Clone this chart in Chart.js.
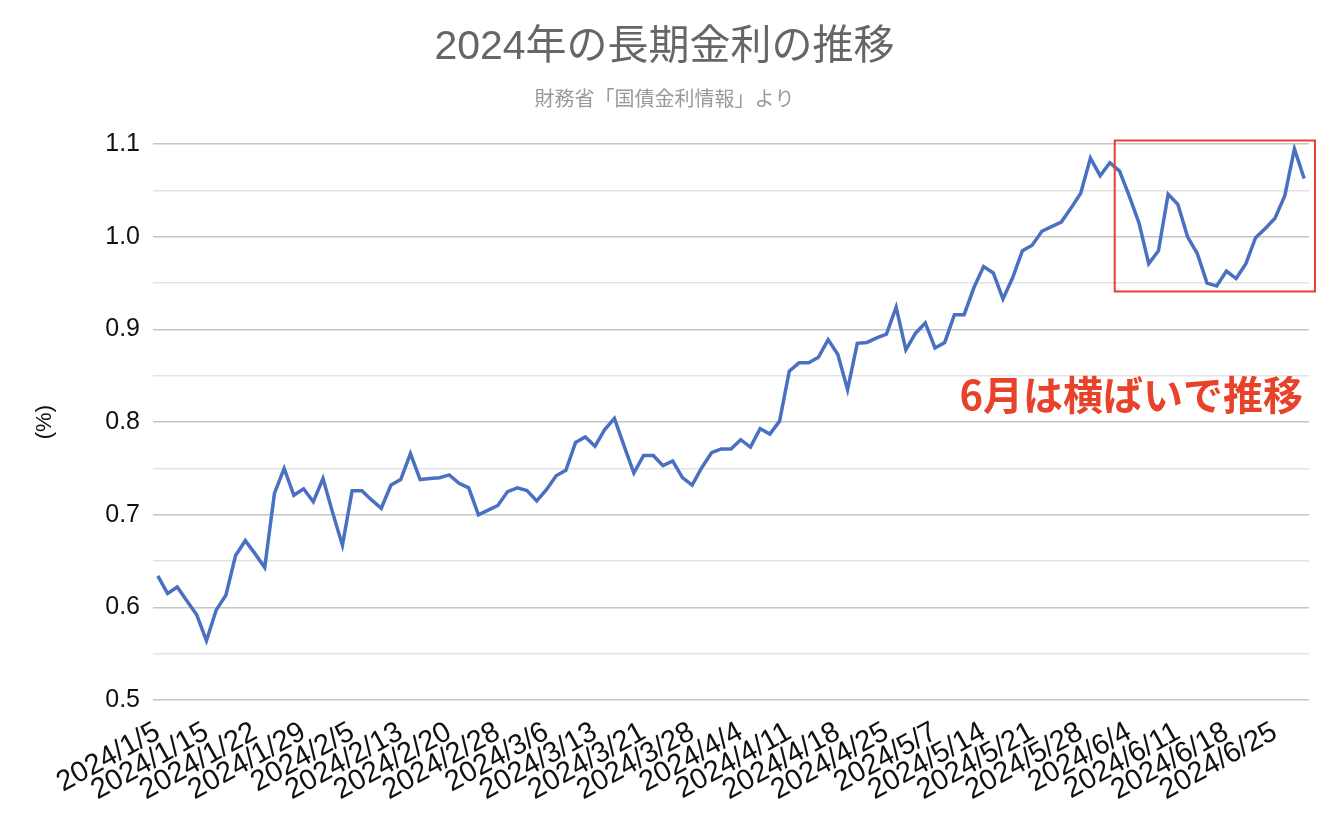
<!DOCTYPE html>
<html lang="ja">
<head>
<meta charset="utf-8">
<title>2024年の長期金利の推移</title>
<script src="https://cdn.jsdelivr.net/npm/chart.js@4.4.1/dist/chart.umd.min.js"></script>
<style>
  html, body { margin: 0; padding: 0; background: #fff; }
  .chart-container { position: relative; width: 1338px; height: 822px; }
</style>
</head>
<body>
<div class="chart-container">
  <canvas id="yield-canvas"></canvas>
</div>
<script>
// trading days (JGB 10y, MOF)
const dates = [
  '1/5', '1/9', '1/10', '1/11', '1/12', '1/15', '1/16', '1/17', '1/18', '1/19',
  '1/22', '1/23', '1/24', '1/25', '1/26', '1/29', '1/30', '1/31', '2/1', '2/2',
  '2/5', '2/6', '2/7', '2/8', '2/9', '2/13', '2/14', '2/15', '2/16', '2/19',
  '2/20', '2/21', '2/22', '2/26', '2/27', '2/28', '2/29', '3/1', '3/4', '3/5',
  '3/6', '3/7', '3/8', '3/11', '3/12', '3/13', '3/14', '3/15', '3/18', '3/19',
  '3/21', '3/22', '3/25', '3/26', '3/27', '3/28', '3/29', '4/1', '4/2', '4/3',
  '4/4', '4/5', '4/8', '4/9', '4/10', '4/11', '4/12', '4/15', '4/16', '4/17',
  '4/18', '4/19', '4/22', '4/23', '4/24', '4/25', '4/26', '4/30', '5/1', '5/2',
  '5/7', '5/8', '5/9', '5/10', '5/13', '5/14', '5/15', '5/16', '5/17', '5/20',
  '5/21', '5/22', '5/23', '5/24', '5/27', '5/28', '5/29', '5/30', '5/31', '6/3',
  '6/4', '6/5', '6/6', '6/7', '6/10', '6/11', '6/12', '6/13', '6/14', '6/17',
  '6/18', '6/19', '6/20', '6/21', '6/24', '6/25', '6/26', '6/27', '6/28'
].map(d => '2024/' + d);

// 10-year yield (%)
const yields = [
  0.634, 0.615, 0.622, 0.607, 0.592, 0.564, 0.597, 0.613, 0.656, 0.672,
  0.658, 0.643, 0.723, 0.750, 0.721, 0.728, 0.714, 0.739, 0.702, 0.667,
  0.726, 0.726, 0.716, 0.707, 0.732, 0.738, 0.766, 0.738, 0.739, 0.740,
  0.743, 0.734, 0.729, 0.700, 0.705, 0.710, 0.725, 0.729, 0.726, 0.715,
  0.727, 0.742, 0.748, 0.778, 0.784, 0.774, 0.792, 0.804, 0.774, 0.745,
  0.764, 0.764, 0.753, 0.758, 0.740, 0.732, 0.751, 0.767, 0.771, 0.771,
  0.781, 0.773, 0.793, 0.787, 0.801, 0.855, 0.864, 0.864, 0.870, 0.889,
  0.873, 0.835, 0.885, 0.886, 0.891, 0.895, 0.924, 0.878, 0.896, 0.907,
  0.880, 0.886, 0.916, 0.916, 0.945, 0.968, 0.961, 0.933, 0.956, 0.985,
  0.991, 1.006, 1.011, 1.016, 1.031, 1.047, 1.085, 1.066, 1.080, 1.071,
  1.044, 1.015, 0.971, 0.985, 1.046, 1.035, 1.000, 0.982, 0.950, 0.947,
  0.963, 0.955, 0.971, 0.999, 1.009, 1.020, 1.044, 1.095, 1.063
];

const labelEvery = 5;
const yMin = 0.5, yMax = 1.1, yStep = 0.05;

// June highlight: category index range and value range of the box
const noteBox = { fromIndex: 98.5, valueTop: 1.104, valueBottom: 0.941 };
const noteText = '6月は横ばいで推移';
const noteValue = 0.829;

const RED = '#e8432a';
const latin = "'Liberation Sans', 'Noto Sans CJK JP', sans-serif";

const isMajor = (v) => Math.abs(v * 10 - Math.round(v * 10)) < 1e-6;

const notePlugin = {
  id: 'junenote',
  afterDraw(chart) {
    const { ctx, chartArea, scales: { x, y } } = chart;
    const left = x.getPixelForValue(noteBox.fromIndex);
    const right = chartArea.right + 6;
    const top = y.getPixelForValue(noteBox.valueTop);
    const bottom = y.getPixelForValue(noteBox.valueBottom);
    ctx.save();
    ctx.strokeStyle = RED;
    ctx.lineWidth = 2;
    ctx.strokeRect(left, top, right - left, bottom - top);
    ctx.fillStyle = RED;
    ctx.font = "bold 40px 'Noto Sans CJK JP', sans-serif";
    ctx.textAlign = 'right';
    ctx.textBaseline = 'middle';
    ctx.fillText(noteText, chartArea.right - 6, y.getPixelForValue(noteValue));
    ctx.restore();
  }
};

const ctx = document.getElementById('yield-canvas').getContext('2d');
new Chart(ctx, {
  type: 'line',
  data: {
    labels: dates,
    datasets: [{
      label: '10年国債金利',
      data: yields,
      borderColor: '#4a70c2',
      backgroundColor: '#4a70c2',
      borderWidth: 3.5,
      pointRadius: 0,
      tension: 0,
      fill: false
    }]
  },
  options: {
    responsive: true,
    maintainAspectRatio: false,
    animation: false,
    layout: { padding: { left: 20, right: 29, top: 0, bottom: 0 } },
    plugins: {
      legend: { display: false },
      tooltip: { enabled: false },
      title: {
        display: true,
        text: '2024年の長期金利の推移',
        color: '#666',
        font: { family: latin, size: 41, weight: 'normal' },
        padding: { top: 23, bottom: 0 }
      },
      subtitle: {
        display: true,
        text: '財務省「国債金利情報」より',
        color: '#999',
        font: { family: "'Noto Sans CJK JP', sans-serif", size: 20 },
        padding: { top: 14, bottom: 34 }
      }
    },
    scales: {
      x: {
        offset: true,
        grid: { display: false },
        border: { display: false },
        ticks: {
          autoSkip: false,
          maxRotation: 29,
          minRotation: 29,
          padding: 7,
          color: '#111',
          font: { family: latin, size: 29 },
          callback: (v, i) => (i % labelEvery === 0 ? dates[i] : '')
        },
        afterFit: (scale) => { scale.height = 122; }
      },
      y: {
        min: yMin,
        max: yMax,
        border: { display: false },
        grid: {
          drawTicks: false,
          lineWidth: 1.5,
          color: (c) => (isMajor(c.tick.value) ? '#c6c6c6' : '#e3e3e3')
        },
        ticks: {
          stepSize: yStep,
          padding: 13,
          color: '#111',
          font: { family: latin, size: 25 },
          callback: (v) => (isMajor(v) ? v.toFixed(1) : '')
        },
        title: {
          display: true,
          text: '(%)',
          color: '#111',
          font: { family: latin, size: 22 },
          padding: { top: 12, bottom: 0 }
        },
        afterFit: (scale) => { scale.width = 133; }
      }
    }
  },
  plugins: [notePlugin]
});
</script>
</body>
</html>
